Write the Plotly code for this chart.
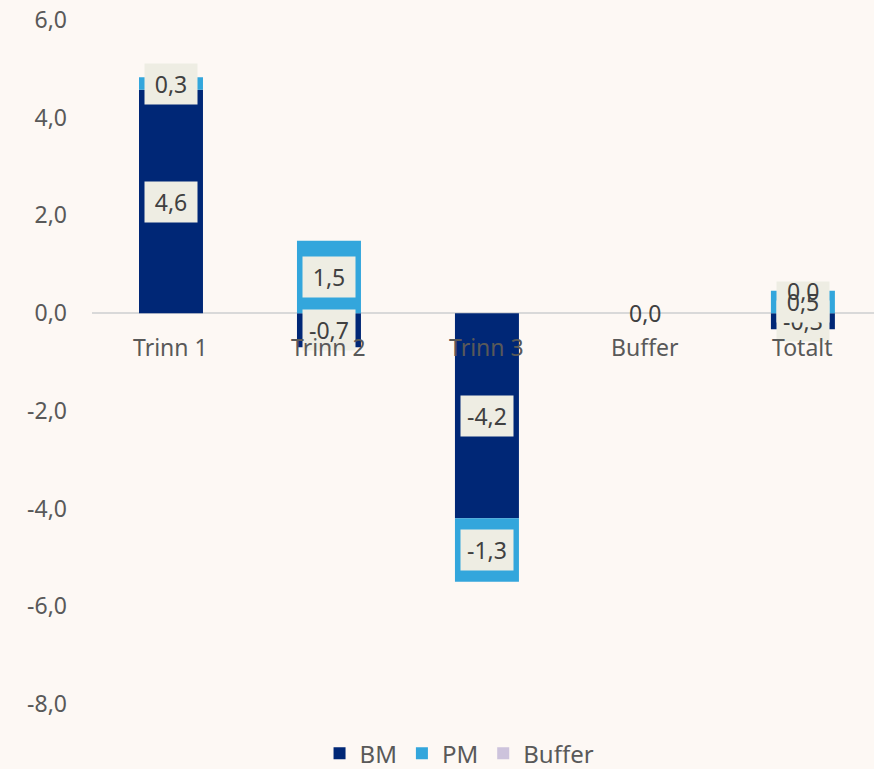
import plotly.graph_objects as go

categories = ["Trinn 1", "Trinn 2", "Trinn 3", "Buffer", "Totalt"]
bm = [4.57, -0.7, -4.2, 0.0, -0.33]
pm = [0.26, 1.48, -1.3, 0.0, 0.46]
buffer = [None, None, None, 0.0, 0.0]
y_ticks = [6, 4, 2, 0, -2, -4, -6, -8]

FONT = "Noto Sans"
GREY = "#595959"
BG = "#fdf8f4"

series = [
    ("BM", bm, "#002776"),
    ("PM", pm, "#33a6dc"),
    ("Buffer", buffer, "#cdc3dc"),
]


def fmt(v):
    return f"{v:.1f}".replace(".", ",")


fig = go.Figure()
for name, vals, color in series:
    fig.add_trace(
        go.Bar(
            x=categories,
            y=vals,
            name=name,
            marker=dict(color=color, line=dict(width=0)),
        )
    )

# data labels centred in each stacked segment (relative stacking)
pos = [0.0] * len(categories)
neg = [0.0] * len(categories)
for name, vals, color in series:
    for i, v in enumerate(vals):
        if v is None:
            continue
        if v >= 0:
            centre = pos[i] + v / 2
            pos[i] += v
        else:
            centre = neg[i] + v / 2
            neg[i] += v
        if v == 0 and name != "Buffer":
            continue
        boxed = name != "Buffer"
        fig.add_annotation(
            x=categories[i],
            y=centre,
            text=fmt(v),
            showarrow=False,
            font=dict(family=FONT, size=23, color="#404040"),
            bgcolor="#eeede3" if boxed else "rgba(0,0,0,0)",
            width=42 if boxed else None,
            height=30 if boxed else None,
            borderpad=5,
        )

# category labels sit just under the zero line
for c in categories:
    fig.add_annotation(
        x=c,
        y=0,
        text=c,
        showarrow=False,
        yanchor="top",
        yshift=-16,
        font=dict(family=FONT, size=23, color=GREY),
    )

fig.update_layout(
    width=874,
    height=769,
    barmode="relative",
    bargap=0.595,
    paper_bgcolor=BG,
    plot_bgcolor=BG,
    font=dict(family=FONT, size=23, color=GREY),
    margin=dict(l=92, r=0, t=20, b=65, autoexpand=False),
    xaxis=dict(
        range=[-0.5, 4.45],
        showticklabels=False,
        showgrid=False,
        zeroline=False,
        showline=False,
        ticks="",
    ),
    yaxis=dict(
        range=[-8, 6],
        tickvals=y_ticks,
        ticktext=[fmt(v) for v in y_ticks],
        showgrid=False,
        zeroline=True,
        zerolinecolor="#d9d9d9",
        zerolinewidth=2,
        showline=False,
        ticks="",
        ticklabelstandoff=24,
        tickfont=dict(family=FONT, size=23, color=GREY),
    ),
    legend=dict(
        orientation="h",
        x=0.47,
        xanchor="center",
        yref="container",
        y=0.02,
        yanchor="middle",
        font=dict(family=FONT, size=24, color=GREY),
        itemwidth=30,
        traceorder="normal",
    ),
    showlegend=True,
)

fig.write_html(
    "out.html",
    config={"displayModeBar": False},
    post_script="document.body.style.margin='0';document.body.style.background='%s';" % BG,
)
